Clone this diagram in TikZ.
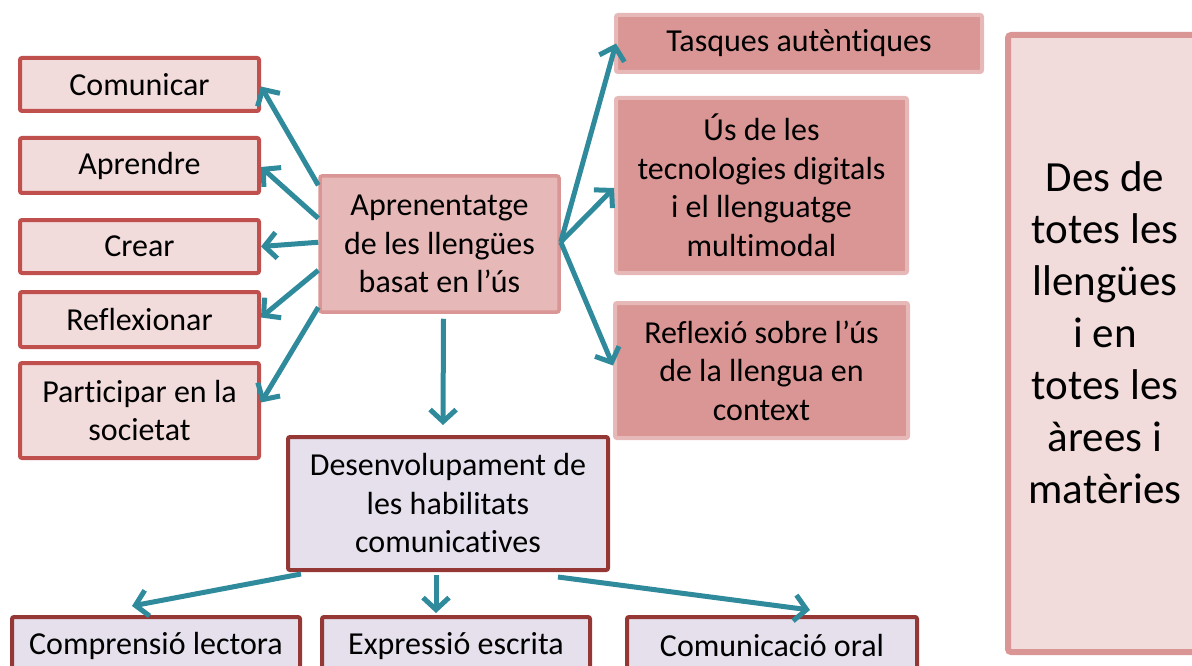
\documentclass[tikz,border=0pt]{standalone}
\usepackage{fontspec}
\setmainfont{Carlito}[Ligatures=NoCommon]
\usetikzlibrary{arrows.meta,calc}
\definecolor{pinkL}{HTML}{F2DCDB}
\definecolor{redB}{HTML}{C0504D}
\definecolor{pinkM}{HTML}{E6B9B8}
\definecolor{pinkD}{HTML}{D99694}
\definecolor{lav}{HTML}{E5E0EC}
\definecolor{darkredB}{HTML}{953735}
\definecolor{arrowteal}{HTML}{2F8A9C}
\tikzset{
  box/.style={rectangle, inner sep=0pt, align=center, rounded corners=2pt,
    font=\fontsize{32}{38.5}\selectfont},
  leftbox/.style={box, fill=pinkL, draw=redB, line width=4pt},
  centerbox/.style={box, fill=pinkM, draw=pinkD, line width=3.5pt},
  rightbox/.style={box, fill=pinkD, draw=pinkM, line width=4pt},
  lavbox/.style={box, fill=lav, draw=darkredB, line width=4pt},
  bigbox/.style={rectangle, rounded corners=3pt, fill=pinkL, draw=pinkD, line width=6pt},
  bigtext/.style={align=center, inner sep=0pt, font=\fontsize{43}{52}\selectfont},
  arr/.style={draw=arrowteal, line width=5pt, -{Straight Barb[length=12pt,width=26pt]}}
}
\begin{document}
\begin{tikzpicture}[x=1pt,y=-1pt]
\useasboundingbox (0,0) rectangle (1192,666);
\clip (0,0) rectangle (1192,666);

% left column
\node[leftbox, minimum width=239pt, minimum height=53pt] (com) at (139.5,84.5) {Comunicar};
\node[leftbox, minimum width=239pt, minimum height=55pt] (apr) at (139.5,165.5) {Aprendre};
\node[leftbox, minimum width=239pt, minimum height=53pt] (cre) at (139.5,246.5) {Crear};
\node[leftbox, minimum width=239pt, minimum height=55pt] (ref) at (139.5,319.5) {Reflexionar};
\node[leftbox, minimum width=239pt, minimum height=95pt] (par) at (139.5,410.5) {Participar en la\\societat};

% center
\node[centerbox, minimum width=239pt, minimum height=136pt] (c) at (439.5,244) {Aprenentatge\\de les llengües\\basat en l’ús};

% right column
\node[rightbox, minimum width=366pt, minimum height=57pt] (tas) at (799,43.5) {\raisebox{-2pt}{Tasques autèntiques}};
\node[rightbox, minimum width=291pt, minimum height=175pt] (us) at (761.5,185.5) {Ús de les\\tecnologies digitals\\i el llenguatge\\multimodal};
\node[rightbox, minimum width=293pt, minimum height=135pt] (rfx) at (761.5,370.5) {Reflexió sobre l’ús\\de la llengua en\\context};

% lower part
\node[lavbox, minimum width=320pt, minimum height=133pt] (d) at (448,503.5) {Desenvolupament de\\les habilitats\\comunicatives};
\node[lavbox, minimum width=288pt, minimum height=58pt] (cl) at (156,646) {Comprensió lectora};
\node[lavbox, minimum width=268pt, minimum height=58pt] (ex) at (456,646) {Expressió escrita};
\node[lavbox, minimum width=290pt, minimum height=58pt] (co) at (772,646) {Comunicació oral};

% big right box
\node[bigbox, minimum width=194pt, minimum height=617pt] (big) at (1105,343.5) {};
\node[bigtext] (bigt) at (1105,333) {Des de\\totes les\\llengües\\i en\\totes les\\àrees i\\matèries};

% arrows left
\draw[arr] ([yshift=-11pt]c.north west) -- ([yshift=-2pt]com.east);
\draw[arr] ([yshift=-44pt]c.north west) -- ([yshift=-1.5pt]apr.east);
\draw[arr] ([yshift=-68pt]c.north west) -- (cre.east);
\draw[arr] ([yshift=-96pt]c.north west) -- ([yshift=2pt]ref.east);
\draw[arr] ([yshift=-133pt]c.north west) -- ([yshift=8pt]par.east);

% arrows right
\draw[arr] ([yshift=2pt]c.east) -- ([xshift=2pt]tas.west);
\draw[arr] ([yshift=2pt]c.east) -- ([yshift=-2.5pt]us.west);
\draw[arr] ([yshift=2pt]c.east) -- ([yshift=5pt]rfx.west);

% arrow down
\draw[arr] ([xshift=4pt,yshift=-5pt]c.south) -- ([xshift=-5pt,yshift=10pt]d.north);

% arrows from d
\draw[arr] ([xshift=15pt,yshift=-2pt]d.south west) -- ([xshift=-24pt,yshift=9pt]cl.north);
\draw[arr] ([xshift=-12pt,yshift=-3pt]d.south) -- ([xshift=-20pt,yshift=2pt]ex.north);
\draw[arr] ([xshift=-52pt,yshift=-5pt]d.south east) -- ([xshift=38pt,yshift=5pt]co.north);
\end{tikzpicture}
\end{document}
